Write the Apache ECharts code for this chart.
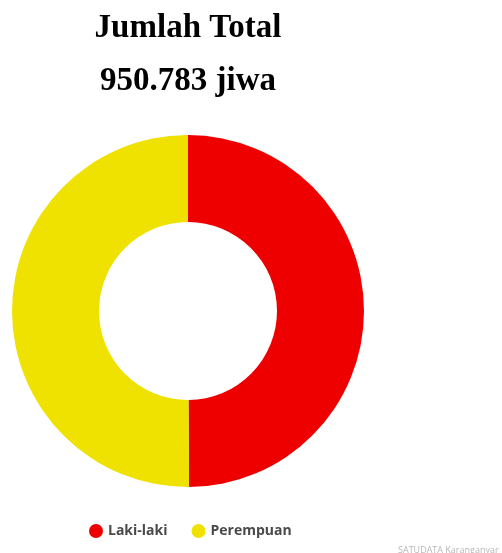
<!DOCTYPE html>
<html>
<head>
<meta charset="utf-8">
<script src="https://cdn.jsdelivr.net/npm/echarts@6/dist/echarts.min.js"></script>
<style>
html,body{margin:0;padding:0;background:#fff;}
#chart{width:502px;height:553px;}
</style>
</head>
<body>
<div id="chart"></div>
<script>
const categories = ['Laki-laki', 'Perempuan'];
const values = [474500, 476283];
const colors = ['#ef0000', '#efe100'];
const titleLines = ['Jumlah Total', '950.783 jiwa'];
const sourceText = 'SATUDATA Karanganyar';

const chart = echarts.init(document.getElementById('chart'));
chart.setOption({
  backgroundColor: '#ffffff',
  animation: false,
  title: [
    {
      text: titleLines[0], left: 183, top: 7, textAlign: 'center',
      textStyle: { fontFamily: 'Liberation Serif', fontWeight: 'bold', fontSize: 33, color: '#000' }
    },
    {
      text: titleLines[1], left: 183, top: 60, textAlign: 'center',
      textStyle: { fontFamily: 'Liberation Serif', fontWeight: 'bold', fontSize: 33, color: '#000' }
    },
    {
      text: sourceText, left: 393, top: 541,
      textStyle: { fontFamily: 'Open Sans', fontWeight: 'normal', fontSize: 9, color: '#b8b8b8' }
    }
  ],
  legend: {
    data: categories,
    left: 84,
    top: 519,
    icon: 'circle',
    itemWidth: 14,
    itemHeight: 14,
    itemGap: 24,
    textStyle: { fontFamily: 'Open Sans', fontSize: 14, fontWeight: 'bold', color: '#4a4a4a' }
  },
  series: [{
    type: 'pie',
    center: [188, 311],
    radius: [89, 176],
    startAngle: 90,
    clockwise: true,
    label: { show: false },
    labelLine: { show: false },
    emphasis: { disabled: true },
    itemStyle: { borderWidth: 0 },
    data: categories.map((c, i) => ({ name: c, value: values[i], itemStyle: { color: colors[i] } }))
  }]
});
</script>
</body>
</html>
